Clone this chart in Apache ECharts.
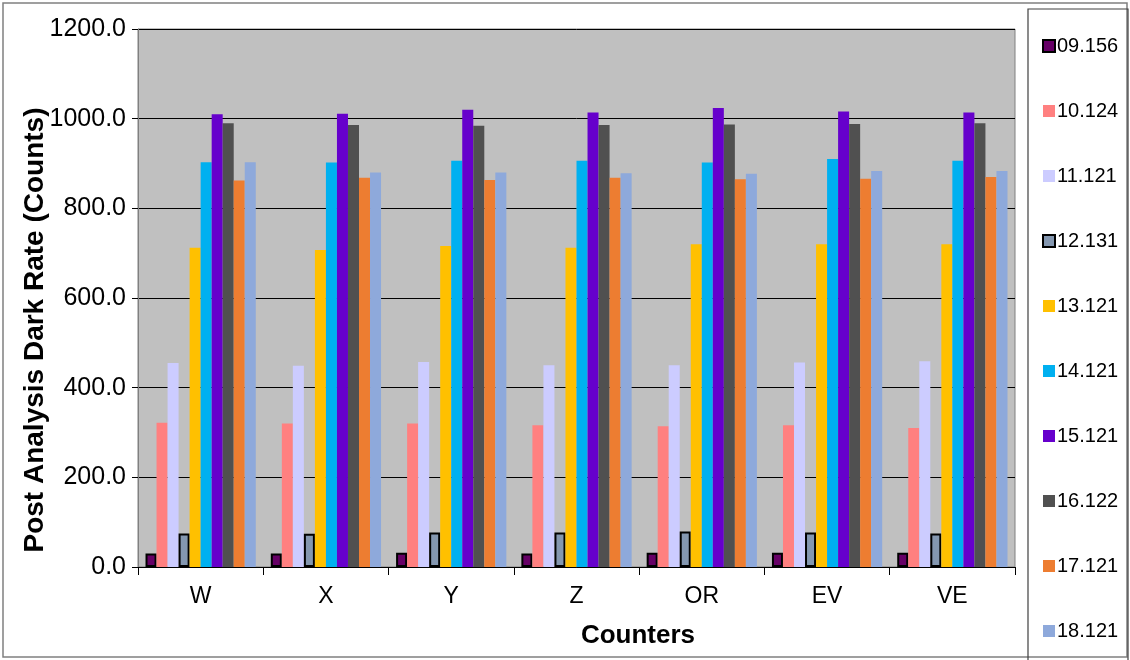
<!DOCTYPE html>
<html>
<head>
<meta charset="utf-8">
<script src="https://cdn.jsdelivr.net/npm/echarts@6/dist/echarts.min.js"></script>
<style>
html,body{margin:0;padding:0;background:#fff;}
#c{width:1130px;height:660px;}
</style>
</head>
<body>
<div id="c"></div>
<script>
const categories = ['W', 'X', 'Y', 'Z', 'OR', 'EV', 'VE'];
const seriesNames = ['09.156', '10.124', '11.121', '12.131', '13.121', '14.121', '15.121', '16.122', '17.121', '18.121'];
const s09156 = [30, 30, 32, 30, 32, 32, 32];
const s10124 = [322, 320, 320, 316, 314, 316, 310];
const s11121 = [455, 449, 457, 450, 450, 456, 459];
const s12131 = [75, 74, 77, 77, 79, 77, 75];
const s13121 = [712, 707, 716, 712, 720, 720, 720];
const s14121 = [903, 902, 906, 906, 902, 910, 906];
const s15121 = [1010, 1011, 1020, 1014, 1024, 1016, 1014];
const s16122 = [990, 986, 984, 986, 987, 988, 990];
const s17121 = [862, 868, 863, 868, 865, 866, 870];
const s18121 = [903, 880, 880, 878, 877, 883, 883];
const seriesData = [s09156, s10124, s11121, s12131, s13121, s14121, s15121, s16122, s17121, s18121];
const colors = ['#660066', '#FF8080', '#CCCCFF', '#8497B0', '#FFC000', '#00B0F0', '#6600CC', '#505050', '#ED7D31', '#8EA9DB'];
const yTitle = 'Post Analysis Dark Rate (Counts)';
const xTitle = 'Counters';

const chart = echarts.init(document.getElementById('c'));
const font = 'Liberation Sans, Arial, sans-serif';

const series = seriesNames.map((n, i) => {
  const bordered = (i === 0 || i === 3);
  return {
    name: n,
    type: 'bar',
    data: seriesData[i],
    barGap: '0%',
    barCategoryGap: '12%',
    itemStyle: {
      color: colors[i],
      borderColor: bordered ? '#000' : colors[i],
      borderWidth: bordered ? 2 : 0
    }
  };
});

chart.setOption({
  animation: false,
  textStyle: { fontFamily: font },
  grid: {
    left: 138, right: 115, top: 29, bottom: 93,
    show: true, backgroundColor: '#C0C0C0', borderColor: '#808080', borderWidth: 1
  },
  legend: {
    orient: 'vertical',
    left: 1037,
    top: 30,
    itemWidth: 12,
    itemHeight: 12,
    itemGap: 43,
    icon: 'rect',
    textStyle: { fontSize: 20, color: '#000', fontFamily: font, lineHeight: 22, padding: [0,0,0,-3] },
    data: seriesNames
  },
  xAxis: {
    type: 'category',
    data: categories,
    axisLine: { lineStyle: { color: '#000', width: 1 } },
    axisTick: { show: true, length: 8, lineStyle: { color: '#000' } },
    axisLabel: { fontSize: 23, color: '#000', margin: 18, fontFamily: font }
  },
  yAxis: {
    type: 'value',
    min: 0, max: 1200, interval: 200,
    axisLine: { show: true, lineStyle: { color: '#808080', width: 1 } },
    axisTick: { show: true, length: 6, lineStyle: { color: '#000' } },
    axisLabel: { fontSize: 25, color: '#000', margin: 12, fontFamily: font, formatter: v => v.toFixed(1) },
    splitLine: { show: true, lineStyle: { color: '#000', width: 1 } }
  },
  graphic: [
    { type: 'text', x: 35, y: 330, rotation: Math.PI / 2,
      style: { text: yTitle, font: 'bold 28px ' + font, fill: '#000', align: 'center', verticalAlign: 'middle' } },
    { type: 'text', x: 638, y: 636,
      style: { text: xTitle, font: 'bold 26px ' + font, fill: '#000', align: 'center', verticalAlign: 'middle' } },
    { type: 'rect', shape: { x: 3, y: 3, width: 1124, height: 654 }, style: { fill: 'none', stroke: '#808080', lineWidth: 1.5 }, z: 100 },
    { type: 'rect', shape: { x: 1028, y: 9, width: 100, height: 660 }, style: { fill: 'none', stroke: '#404040', lineWidth: 1.2 }, z: 100 }
  ],
  series: series
});
</script>
</body>
</html>
